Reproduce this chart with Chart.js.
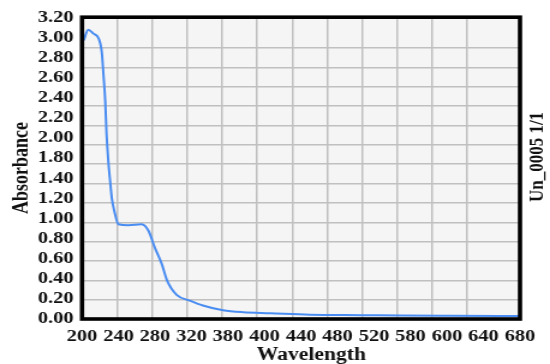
<!DOCTYPE html>
<html>
<head>
<meta charset="utf-8">
<script src="https://cdn.jsdelivr.net/npm/chart.js@4/dist/chart.umd.min.js"></script>
<style>
  html, body { margin: 0; padding: 0; background: #fff; overflow: hidden; }
  /* the reference is a horizontally stretched export, so draw narrow and stretch */
  #wrap { width: 458px; height: 364px; transform: scaleX(1.2009); transform-origin: 0 0; }
</style>
</head>
<body>
<div id="wrap"><canvas id="grafica"></canvas></div>
<script>
// values
const wavelengths = [202, 207, 213, 219, 222.5, 224.5, 226.5, 228, 230, 232, 234, 237.5, 241.5, 253, 268, 276, 283, 291, 297, 308, 323, 338, 361, 384, 415, 460, 520, 563, 620, 700];
const absorbance  = [2.88, 2.99, 2.95, 2.90, 2.76, 2.52, 2.25, 1.91, 1.63, 1.43, 1.25, 1.09, 0.98, 0.97, 0.98, 0.91, 0.74, 0.57, 0.40, 0.25, 0.19, 0.14, 0.09, 0.07, 0.06, 0.045, 0.04, 0.036, 0.033, 0.03];

// tick labels as printed on the reference (evenly spread along each axis)
const xTickLabels = ["200", "240", "280", "320", "380", "400", "440", "480", "520", "580", "600", "640", "680"];
const yTickLabels = ["0.00", "0.20", "0.40", "0.60", "0.80", "1.00", "1.20", "1.40", "1.80", "2.00", "2.20", "2.40", "2.60", "2.80", "3.00", "3.20"];

const X_MIN = 200, X_MAX = 700, Y_MIN = 0, Y_MAX = 3.12;
const fuente = "'Liberation Serif', 'Times New Roman', serif";

const marco = {
    id: "marco",
    beforeDraw(chart) {
        const a = chart.chartArea, ctx = chart.ctx;
        ctx.save();
        ctx.fillStyle = "#f5f5f5";
        ctx.fillRect(a.left, a.top, a.right - a.left, a.bottom - a.top);
        ctx.restore();
    },
    afterDraw(chart) {
        const a = chart.chartArea, ctx = chart.ctx;
        ctx.save();
        ctx.strokeStyle = "#000";
        ctx.lineWidth = 3.6;
        ctx.strokeRect(a.left, a.top, a.right - a.left, a.bottom - a.top);
        ctx.fillStyle = "#111";
        // x axis title, sits a little right of centre in the reference
        ctx.font = "bold 18px " + fuente;
        ctx.textAlign = "center";
        ctx.textBaseline = "middle";
        ctx.fillText("Wavelength", (a.left + a.right) / 2 + 8.5, 355);
        // right-hand caption
        ctx.translate(a.right + 19, 157);
        ctx.rotate(-Math.PI / 2);
        ctx.font = "bold 17px " + fuente;
        ctx.textBaseline = "alphabetic";
        ctx.fillText("Un_0005 1/1", 0, 0);
        ctx.restore();
    }
};

function repartir(lista, min, max) {
    return lista.map((t, i) => ({ value: min + i * (max - min) / (lista.length - 1) }));
}

const ctx = document.getElementById("grafica").getContext("2d");
new Chart(ctx, {
    type: "line",
    data: {
        datasets: [{
            data: wavelengths.map((w, i) => ({ x: w, y: absorbance[i] })),
            borderColor: "#4a8df2",
            borderWidth: 2,
            pointRadius: 0,
            cubicInterpolationMode: "monotone",
            xAxisID: "x",
            yAxisID: "y"
        }]
    },
    options: {
        responsive: true,
        maintainAspectRatio: false,
        animation: false,
        layout: { padding: { top: 15, right: 25, left: 0, bottom: 0 } },
        plugins: { legend: { display: false }, tooltip: { enabled: false } },
        scales: {
            x: {
                type: "linear", position: "bottom", weight: 0,
                min: X_MIN, max: X_MAX,
                ticks: { display: false, stepSize: 40 },
                grid: { color: "#c0c0c0", lineWidth: 1.5, drawTicks: false },
                border: { display: false },
                afterFit: s => { s.height = 0; }
            },
            xl: {
                type: "linear", position: "bottom", weight: 1,
                min: X_MIN, max: X_MAX,
                afterBuildTicks: s => { s.ticks = repartir(xTickLabels, X_MIN, X_MAX); },
                ticks: {
                    callback: (v, i) => xTickLabels[i],
                    color: "#111", padding: 7, maxRotation: 0, autoSkip: false,
                    font: { family: fuente, size: 17, weight: "bold" }
                },
                grid: { display: false, drawTicks: false },
                border: { display: false },
                afterFit: s => { s.height = 45; }
            },
            y: {
                type: "linear", position: "left", weight: 0,
                min: Y_MIN, max: Y_MAX,
                ticks: { display: false, stepSize: 0.2 },
                grid: { color: "#c0c0c0", lineWidth: 1.5, drawTicks: false },
                border: { display: false },
                afterFit: s => { s.width = 0; }
            },
            yl: {
                type: "linear", position: "left", weight: 1,
                min: Y_MIN, max: Y_MAX,
                afterBuildTicks: s => { s.ticks = repartir(yTickLabels, Y_MIN, Y_MAX); },
                ticks: {
                    callback: (v, i) => yTickLabels[i],
                    color: "#111", padding: 7, autoSkip: false,
                    font: { family: fuente, size: 17, weight: "bold" }
                },
                grid: { display: false, drawTicks: false },
                border: { display: false },
                title: {
                    display: true, text: "Absorbance", color: "#111",
                    font: { family: fuente, size: 18, weight: "bold" },
                    padding: { top: 7.5, bottom: 0 }
                },
                afterFit: s => { s.width = 68.3; }
            }
        }
    },
    plugins: [marco]
});
</script>
</body>
</html>
